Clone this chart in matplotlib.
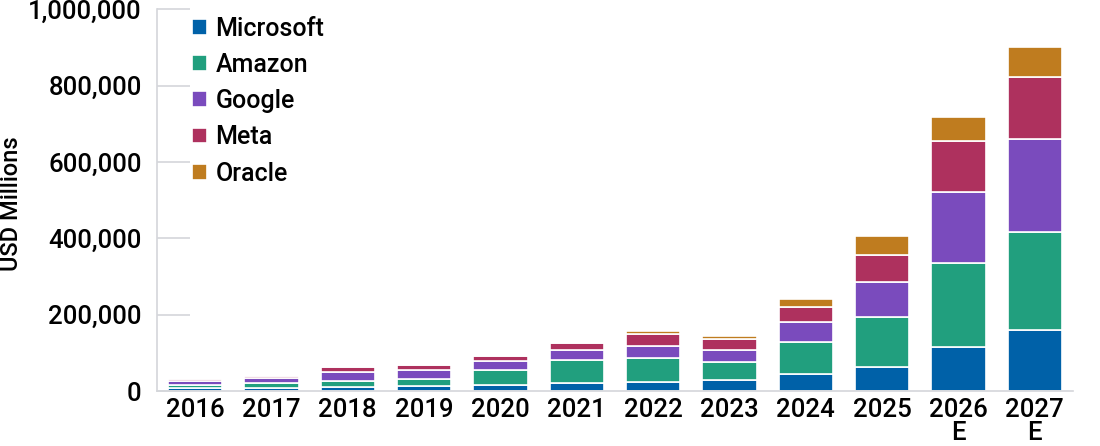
import matplotlib
matplotlib.use("Agg")
import matplotlib.pyplot as plt
import numpy as np

plt.rcParams['font.family'] = ['Roboto', 'DejaVu Sans']
plt.rcParams['font.weight'] = 'medium'

# capex by company, USD millions
years = ["2016", "2017", "2018", "2019", "2020", "2021", "2022", "2023",
         "2024", "2025", "2026\nE", "2027\nE"]
microsoft = [8300, 8100, 11600, 13900, 15400, 20600, 23900, 28100,
             44500, 64000, 114000, 160000]
amazon = [7800, 11900, 13400, 16900, 40100, 61100, 63600, 48100,
          83000, 131000, 220000, 257000]
google = [10200, 13200, 25100, 23500, 22300, 24600, 31500, 32300,
          52500, 91000, 187000, 242000]
meta = [4500, 6700, 13900, 15100, 15100, 18600, 31400, 28100,
        39200, 70000, 135000, 163000]
oracle = [1000, 1700, 1700, 1600, 1600, 4500, 6700, 8700,
          21000, 50000, 63000, 78000]

series = [("Microsoft", microsoft, "#0061A8"),
          ("Amazon", amazon, "#219F7E"),
          ("Google", google, "#7A4BBD"),
          ("Meta", meta, "#AE315E"),
          ("Oracle", oracle, "#BF7C1F")]

fig = plt.figure(figsize=(11, 4.46), dpi=100)
ax = fig.add_axes([0.1427, 0.1233, 0.8327, 0.856])

x = np.arange(len(years))
bottom = np.zeros(len(years))
for name, vals, col in series:
    ax.bar(x, vals, 0.71, bottom=bottom, color=col, edgecolor="white",
           linewidth=1.2, label=name)
    bottom += np.array(vals)

ax.set_xlim(-0.5, len(years) - 0.5)
ax.set_ylim(0, 1000000)
ax.set_yticks(np.arange(0, 1000001, 200000))
ax.yaxis.set_major_formatter(matplotlib.ticker.FuncFormatter(lambda v, p: f"{int(v):,}"))
ax.set_xticks(x)
ax.set_xticklabels(years, linespacing=0.95)

for s in ["top", "right"]:
    ax.spines[s].set_visible(False)
for s in ["left", "bottom"]:
    ax.spines[s].set_color("#d4d6da")
    ax.spines[s].set_linewidth(1.2)

ax.tick_params(axis="y", direction="in", length=24, width=1.2, color="#d4d6da",
               labelsize=18.5, pad=11)
ax.tick_params(axis="x", length=0, labelsize=18.5, pad=5)
ax.set_ylabel("USD Millions", fontsize=17, fontweight="medium")
ax.yaxis.set_label_coords(-0.146, 0.49)

ax.legend(loc="upper left", bbox_to_anchor=(0.027, 1.007), frameon=False,
          fontsize=18, handlelength=0.6, handleheight=0.6, handletextpad=0.35,
          labelspacing=0.49, borderaxespad=0)

fig.savefig("out.png", dpi=100)
